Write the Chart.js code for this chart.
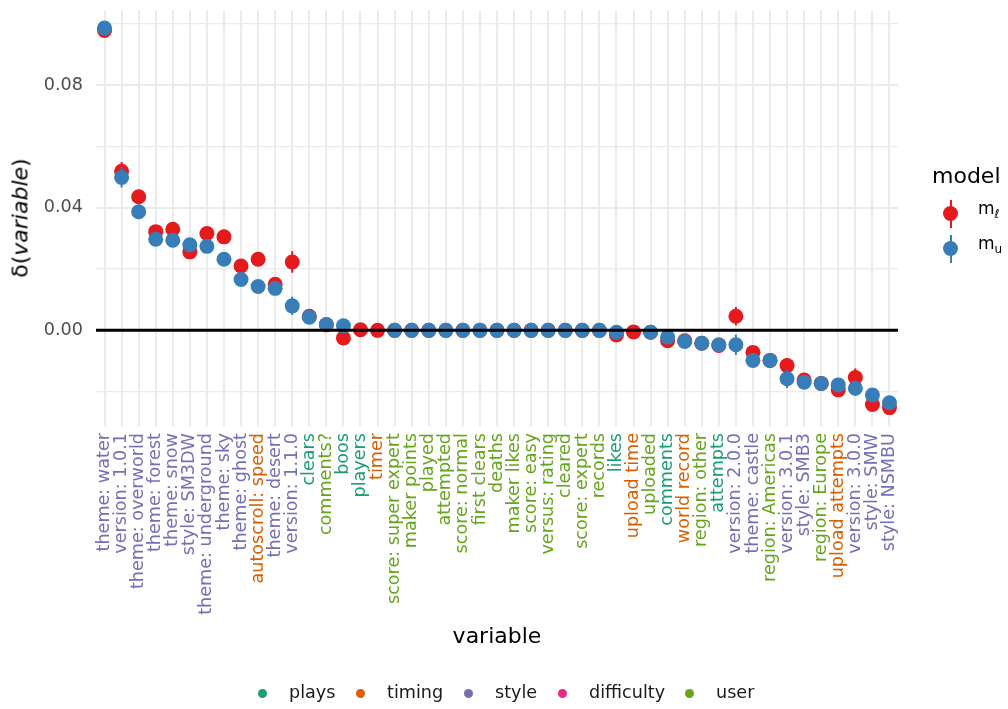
<!DOCTYPE html>
<html lang="en">
  <head>
    <meta charset="UTF-8" />
    <title>delta by variable</title>
    <script src="https://cdn.jsdelivr.net/npm/chart.js@4"></script>
    <style>
      body { margin: 0; background: #fff; overflow: hidden; }
      #wrap { position: relative; width: 1008px; height: 709px; font-family: "DejaVu Sans", sans-serif; }
      .abs { position: absolute; white-space: nowrap; }
      .dot { position: absolute; width: 9px; height: 9px; border-radius: 50%; }
      .big { position: absolute; width: 15px; height: 15px; border-radius: 50%; }
      .bar { position: absolute; width: 2px; }
    </style>
  </head>
  <body>
    <div id="wrap">
      <canvas id="myChart" width="1008" height="709"></canvas>

      <!-- axis titles -->
      <div class="abs" style="left:20px; top:218px; font-size:22px; transform:translate(-50%,-50%) rotate(-90deg);">δ(<i>variable</i>)</div>
      <div class="abs" style="left:497px; top:635px; font-size:22px; transform:translate(-50%,-50%);">variable</div>

      <!-- model legend -->
      <div class="abs" style="left:932px; top:163px; font-size:22px;">model</div>
      <div class="bar" style="left:950px; top:200px; height:28px; background:#E41A1C;"></div>
      <div class="big" style="left:943px; top:206px; background:#E41A1C;"></div>
      <div class="abs" style="left:978px; top:198px; font-size:17px;">m<sub style="font-size:12px;"><i>ℓ</i></sub></div>
      <div class="bar" style="left:950px; top:235px; height:28px; background:#377EB8;"></div>
      <div class="big" style="left:943px; top:241px; background:#377EB8;"></div>
      <div class="abs" style="left:978px; top:233px; font-size:17px;">m<sub style="font-size:12px;">u</sub></div>

      <!-- group legend -->
      <div id="groupLegend"></div>
    </div>

    <script>
      // 변수 이름
      const labels = [
        "theme: water", "version: 1.0.1", "theme: overworld", "theme: forest", "theme: snow",
        "style: SM3DW", "theme: underground", "theme: sky", "theme: ghost", "autoscroll: speed",
        "theme: desert", "version: 1.1.0", "clears", "comments?", "boos", "players", "timer",
        "score: super expert", "maker points", "played", "attempted", "score: normal",
        "first clears", "deaths", "maker likes", "score: easy", "versus: rating", "cleared",
        "score: expert", "records", "likes", "upload time", "uploaded", "comments",
        "world record", "region: other", "attempts", "version: 2.0.0", "theme: castle",
        "region: Americas", "version: 3.0.1", "style: SMB3", "region: Europe",
        "upload attempts", "version: 3.0.0", "style: SMW", "style: NSMBU",
      ];

      // 변수 그룹 (라벨 색)
      const groups = [
        "style", "style", "style", "style", "style", "style", "style", "style", "style", "timing",
        "style", "style", "plays", "user", "plays", "plays", "timing",
        "user", "user", "user", "user", "user", "user", "user", "user", "user", "user", "user",
        "user", "user", "plays", "timing", "user", "plays", "timing", "user", "plays",
        "style", "style", "user", "style", "style", "user", "timing", "style", "style", "style",
      ];

      const groupNames = ["plays", "timing", "style", "difficulty", "user"];
      const groupColors = ["#1B9E77", "#D95F02", "#7570B3", "#E7298A", "#66A61E"];

      // m_l 값
      const valuesL = [
        0.0978, 0.0519, 0.0436, 0.0322, 0.033, 0.0256, 0.0316, 0.0305, 0.021, 0.0232,
        0.015, 0.0223, 0.0046, 0.0018, -0.0025, 0.0002, 0.0,
        0, 0, 0, 0, 0, 0, 0, 0, 0, 0, 0, 0, 0,
        -0.0015, -0.0005, -0.0006, -0.0034, -0.0034, -0.0042, -0.0049, 0.0046, -0.0072,
        -0.0098, -0.0115, -0.0162, -0.0173, -0.0194, -0.0154, -0.0242, -0.0252,
      ];
      // m_u 값
      const valuesU = [
        0.0986, 0.0499, 0.0387, 0.0297, 0.0294, 0.0279, 0.0274, 0.0232, 0.0166, 0.0143,
        0.0137, 0.008, 0.0043, 0.0019, 0.0015, null, null,
        0, 0, 0, 0, 0, 0, 0, 0, 0, 0, 0, 0, 0,
        -0.0006, null, -0.0006, -0.0022, -0.0036, -0.0042, -0.0047, -0.0047, -0.0098,
        -0.0098, -0.0158, -0.0169, -0.0173, -0.0178, -0.0189, -0.0211, -0.0236,
      ];

      // 오차 (반폭)
      const errL = [
        0.0008, 0.003, 0.0008, 0.0008, 0.0008, 0.0008, 0.0008, 0.0008, 0.0008, 0.0008,
        0.0008, 0.0035, 0.0008, 0.0008, 0.0008, 0.0008, 0.0008,
        0, 0, 0, 0, 0, 0, 0, 0, 0, 0, 0, 0, 0,
        0.0008, 0.0008, 0.0008, 0.0008, 0.0008, 0.0008, 0.0008, 0.003, 0.0008,
        0.0008, 0.0025, 0.0008, 0.0008, 0.0008, 0.003, 0.0008, 0.0008,
      ];
      const errU = [
        0.0008, 0.0033, 0.0008, 0.0008, 0.0008, 0.0008, 0.0008, 0.0008, 0.0008, 0.0008,
        0.0008, 0.003, 0.0008, 0.0008, 0.0008, 0, 0,
        0, 0, 0, 0, 0, 0, 0, 0, 0, 0, 0, 0, 0,
        0.0008, 0, 0.0008, 0.0008, 0.0008, 0.0008, 0.0008, 0.0033, 0.0008,
        0.0008, 0.003, 0.0008, 0.0008, 0.0008, 0.0025, 0.0008, 0.0008,
      ];

      const yTicks = [0, 0.04, 0.08];

      // 그룹 범례 (아래)
      const legendX = [262, 360, 468, 562, 689];
      const legendBox = document.querySelector("#groupLegend");
      groupNames.forEach((name, i) => {
        const d = document.createElement("div");
        d.className = "dot";
        d.style.left = legendX[i] - 4.5 + "px";
        d.style.top = "689px";
        d.style.background = groupColors[i];
        legendBox.appendChild(d);
        const t = document.createElement("div");
        t.className = "abs";
        t.style.left = legendX[i] + 27 + "px";
        t.style.top = "682px";
        t.style.fontSize = "17.6px";
        t.style.color = "#1a1a1a";
        t.textContent = name;
        legendBox.appendChild(t);
      });

      // 오차 막대 + 0 선
      const errPlugin = {
        id: "errbars",
        beforeDatasetDraw(chart, args) {
          const ds = chart.data.datasets[args.index];
          const errs = ds.errs;
          const meta = args.meta;
          const y = chart.scales.y;
          const ctx = chart.ctx;
          ctx.save();
          ctx.strokeStyle = ds.backgroundColor;
          ctx.lineWidth = 2;
          meta.data.forEach((pt, i) => {
            const v = ds.data[i];
            if (v === null || !errs[i]) return;
            ctx.beginPath();
            ctx.moveTo(pt.x, y.getPixelForValue(v - errs[i]));
            ctx.lineTo(pt.x, y.getPixelForValue(v + errs[i]));
            ctx.stroke();
          });
          ctx.restore();
        },
        afterDatasetsDraw(chart) {
          const a = chart.chartArea;
          const y0 = chart.scales.y.getPixelForValue(0);
          const ctx = chart.ctx;
          ctx.save();
          ctx.strokeStyle = "#000";
          ctx.lineWidth = 3;
          ctx.beginPath();
          ctx.moveTo(a.left, y0);
          ctx.lineTo(a.right, y0);
          ctx.stroke();
          ctx.restore();
        },
      };

      const ctx = document.querySelector("#myChart").getContext("2d");
      const myChart = new Chart(ctx, {
        type: "line",
        data: {
          labels: labels,
          datasets: [
            {
              label: "m_l",
              data: valuesL,
              errs: errL,
              backgroundColor: "#E41A1C",
              borderColor: "#E41A1C",
              showLine: false,
              pointRadius: 7.5,
              pointHoverRadius: 7.5,
              pointBorderWidth: 0,
              order: 2,
            },
            {
              label: "m_u",
              data: valuesU,
              errs: errU,
              backgroundColor: "#377EB8",
              borderColor: "#377EB8",
              showLine: false,
              pointRadius: 7.5,
              pointHoverRadius: 7.5,
              pointBorderWidth: 0,
              order: 1,
            },
          ],
        },
        options: {
          responsive: false,
          animation: false,
          devicePixelRatio: 1,
          layout: { padding: { top: 10, right: 110, bottom: 83, left: 0 } },
          plugins: { legend: { display: false }, tooltip: { enabled: false } },
          scales: {
            x: {
              type: "category",
              offset: true,
              afterFit: (s) => {
                s.height = 200;
                s.paddingLeft = 0;
                s.paddingRight = 0;
              },
              border: { display: false },
              grid: { color: "#ebebeb", lineWidth: 2, drawTicks: false },
              ticks: {
                autoSkip: false,
                minRotation: 90,
                maxRotation: 90,
                padding: 7,
                font: { family: "DejaVu Sans", size: 17.6 },
                color: (c) => groupColors[groupNames.indexOf(groups[c.index])],
              },
            },
            y: {
              min: -0.0312,
              max: 0.1045,
              afterFit: (s) => {
                s.width = 96;
                s.paddingTop = 0;
                s.paddingBottom = 0;
              },
              border: { display: false },
              grid: {
                color: "#ebebeb",
                drawTicks: false,
                lineWidth: (c) => (Math.round(c.tick.value / 0.02) % 2 === 0 ? 2 : 1.2),
              },
              ticks: {
                stepSize: 0.02,
                includeBounds: false,
                padding: 13,
                font: { family: "DejaVu Sans", size: 17.6 },
                color: "#4d4d4d",
                callback: (v) => {
                  const hit = yTicks.find((t) => Math.abs(t - v) < 1e-6);
                  return hit === undefined ? "" : hit.toFixed(2);
                },
              },
            },
          },
        },
        plugins: [errPlugin],
      });
    </script>
  </body>
</html>
